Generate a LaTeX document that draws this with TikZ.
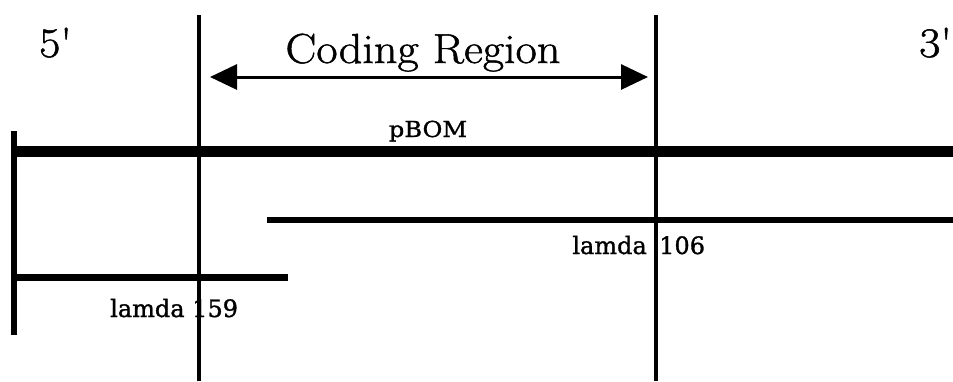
\documentclass[tikz,border=0pt]{standalone}
\usepackage{fontspec}
\newfontfamily\lblfont[FakeStretch=1.1,FakeBold=1.2]{DejaVu Serif}
\newfontfamily\lamfont[FakeBold=1.2]{DejaVu Serif}
\newfontfamily\bigfont[FakeStretch=1.1,FakeBold=1.2]{Latin Modern Roman}
\usetikzlibrary{arrows.meta}
\begin{document}
\begin{tikzpicture}[x=1pt,y=-1pt,
  bar/.style={line width=#1, line cap=butt},
  bigtxt/.style={inner sep=0pt, font=\bigfont\fontsize{42}{46}\selectfont},
  lbl/.style={inner sep=0pt, font=\lblfont\fontsize{22}{25}\selectfont},
  lam/.style={inner sep=0pt, font=\lamfont\fontsize{24}{27}\selectfont}]
\useasboundingbox (0,0) rectangle (953,381);
% coordinates
\coordinate (v1t) at (199,15);  \coordinate (v1b) at (199,381);
\coordinate (v2t) at (656,15);  \coordinate (v2b) at (656,381);
\coordinate (lbt) at (14,131);  \coordinate (lbb) at (14,335);
\coordinate (pbL) at (14,151.5); \coordinate (pbR) at (953,151.5);
\coordinate (l106L) at (267,220); \coordinate (l106R) at (953,220);
\coordinate (l159L) at (14,277.5); \coordinate (l159R) at (288,277.5);
\coordinate (arL) at (210,77);  \coordinate (arR) at (648,77);
% lines
\draw[bar=3.5pt] (v1t) -- (v1b);
\draw[bar=3.5pt] (v2t) -- (v2b);
\draw[bar=6pt] (lbt) -- (lbb);
\draw[bar=11.5pt] (pbL) -- (pbR);
\draw[bar=6.5pt] (l106L) -- (l106R);
\draw[bar=6.5pt] (l159L) -- (l159R);
\draw[line width=3pt, {Triangle[length=27pt,width=25pt]}-{Triangle[length=27pt,width=25pt]}] (arL) -- (arR);
% texts
\node[bigtxt, anchor=base] (cr) at (423,63) {Coding Region};
\node[bigtxt, anchor=base west] (five) at (39,57) {5'};
\node[bigtxt, anchor=base west] (three) at (919,57) {3'};
\node[lbl, anchor=base] (pbom) at (428,137) {pBOM};
\node[lam, anchor=base east] (l106a) at (647,254) {lamda};
\node[lam, anchor=base west] (l106b) at (659,254) {106};
\node[lam, anchor=base west] (l159) at (110,317) {lamda 159};
\end{tikzpicture}
\end{document}
